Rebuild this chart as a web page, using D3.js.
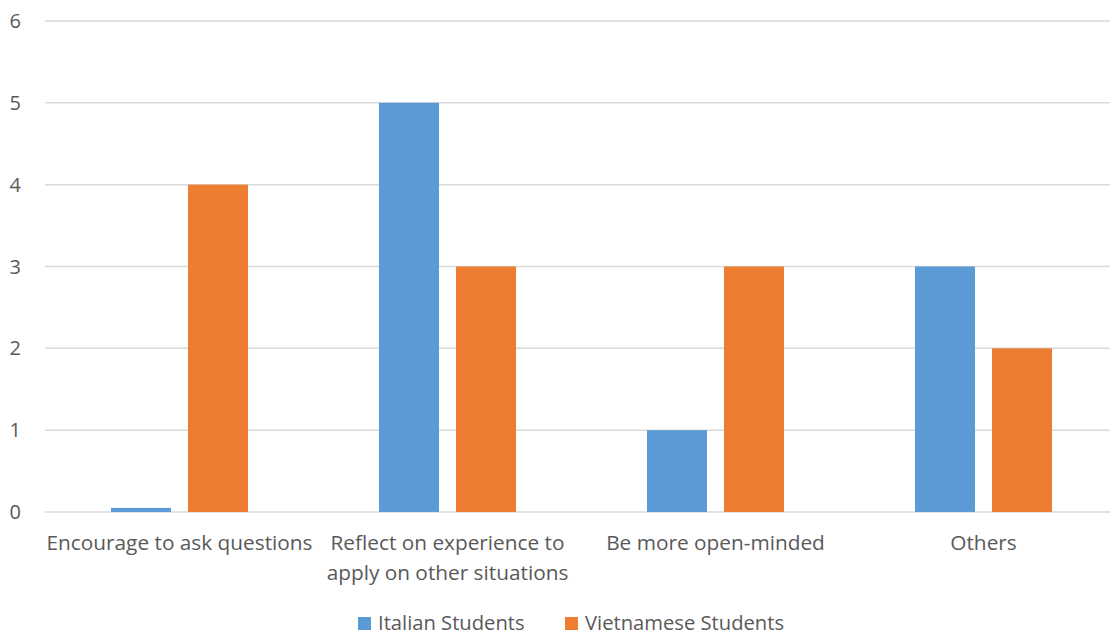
<!DOCTYPE html>
<html><head><meta charset="utf-8">
<script src="https://cdn.jsdelivr.net/npm/d3@7"></script>
<style>body{margin:0;background:#fff}svg{display:block}text{font-family:"Open Sans",sans-serif;fill:#595959}</style>
</head><body><svg id="c" width="1110" height="636"></svg>
<script>
const categories = [["Encourage to ask questions"],["Reflect on experience to","apply on other situations"],["Be more open-minded"],["Others"]];
const seriesNames = ["Italian Students","Vietnamese Students"];
const italian = [0.05, 5, 1, 3];
const vietnamese = [4, 3, 3, 2];
const yTicks = [0,1,2,3,4,5,6];
const colors = ["#5b9bd5","#ed7d31"];

const svg = d3.select("#c");
const x = d3.scaleBand().domain(d3.range(categories.length)).range([45.5, 1117.5]);
const y = d3.scaleLinear().domain([0,6]).range([512, 21]);
const barW = 60, gap = 17;
const offs = [ (x.bandwidth() - (2*barW+gap))/2, (x.bandwidth() - (2*barW+gap))/2 + barW + gap ];

svg.append("g").selectAll("line").data(yTicks).join("line")
  .attr("x1",45).attr("x2",1117).attr("y1",d=>y(d)).attr("y2",d=>y(d))
  .attr("stroke","#d9d9d9").attr("stroke-width",1.5);
svg.append("g").selectAll("text").data(yTicks).join("text")
  .attr("x",21).attr("y",d=>y(d)).attr("dy","0.35em").attr("text-anchor","end")
  .attr("font-size",20).text(d=>d);

const data = [italian, vietnamese];
data.forEach((vals,s)=>{
  svg.append("g").selectAll("rect").data(vals).join("rect")
    .attr("x",(d,i)=>x(i)+offs[s]).attr("width",barW)
    .attr("y",d=>y(d)).attr("height",d=>y(0)-y(d)).attr("fill",colors[s]);
});

const lab = svg.append("g").selectAll("text").data(categories).join("text")
  .attr("x",(d,i)=>x(i)+x.bandwidth()/2).attr("y",550).attr("text-anchor","middle").attr("font-size",20.8);
lab.selectAll("tspan").data(d=>d).join("tspan")
  .attr("x",function(){return this.parentNode.getAttribute("x");})
  .attr("dy",(d,i)=>i?"1.45em":0).text(d=>d);

const leg = svg.append("g");
const legX = [358, 565];
seriesNames.forEach((n,i)=>{
  leg.append("rect").attr("x",legX[i]).attr("y",617).attr("width",13).attr("height",13).attr("fill",colors[i]);
  leg.append("text").attr("x",legX[i]+20).attr("y",623).attr("dy","0.35em").attr("font-size",20.2).text(n);
});
</script></body></html>
